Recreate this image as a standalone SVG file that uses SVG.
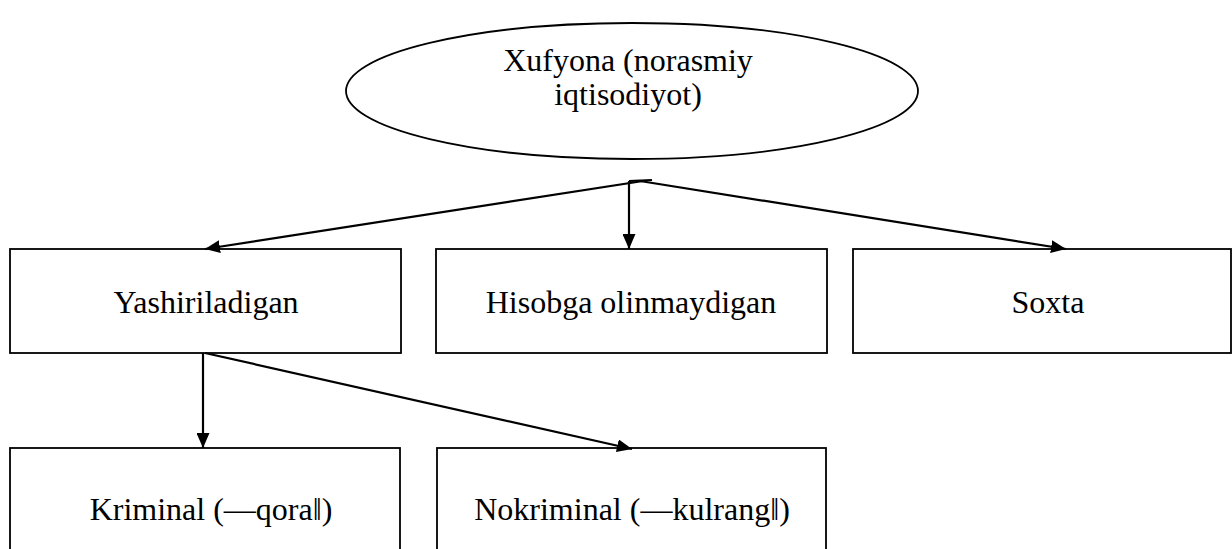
<svg xmlns="http://www.w3.org/2000/svg" width="1232" height="549" viewBox="0 0 1232 549">
<style>
.box{fill:#fff;stroke:#000;stroke-width:1.8}
.lbl{font-family:"Liberation Serif","Times New Roman",serif;font-size:32px;fill:#000;text-anchor:middle}
.con{fill:none;stroke:#000;stroke-width:2.2}
</style>
<defs>
<marker id="ah" viewBox="0 0 15 13" refX="15" refY="6.5" markerWidth="15" markerHeight="13" markerUnits="userSpaceOnUse" orient="auto">
<path d="M0,0 L15,6.5 L0,13 Z" fill="#000"/>
</marker>
</defs>
<rect width="1232" height="549" fill="#fff"/>
<g id="root">
<ellipse cx="632" cy="91" rx="286" ry="68" fill="#fff" stroke="#000" stroke-width="1.8"/>
<text class="lbl" x="628" y="71">Xufyona (norasmiy</text>
<text class="lbl" x="628" y="105">iqtisodiyot)</text>
</g>
<g id="n-yashiriladigan">
<rect class="box" x="10" y="249" width="391" height="104"/>
<text class="lbl" x="206" y="313">Yashiriladigan</text>
</g>
<g id="n-hisobga">
<rect class="box" x="436" y="249" width="391" height="104"/>
<text class="lbl" x="631" y="313">Hisobga olinmaydigan</text>
</g>
<g id="n-soxta">
<rect class="box" x="853" y="249" width="378" height="104"/>
<text class="lbl" x="1048" y="313">Soxta</text>
</g>
<g id="n-kriminal">
<rect class="box" x="10" y="448" width="390" height="120"/>
<text class="lbl" x="211" y="520">Kriminal (―qora‖)</text>
</g>
<g id="n-nokriminal">
<rect class="box" x="437" y="448" width="389" height="120"/>
<text class="lbl" x="632" y="520">Nokriminal (―kulrang‖)</text>
</g>
<g id="connectors">
<path class="con" d="M629,181 L652,180"/>
<path class="con" d="M643,181 L205,249" marker-end="url(#ah)"/>
<path class="con" d="M629,181 L629,249" marker-end="url(#ah)"/>
<path class="con" d="M640,181 L1066,249" marker-end="url(#ah)"/>
<path class="con" d="M203,353 L203,448" marker-end="url(#ah)"/>
<path class="con" d="M205,353 L632,449" marker-end="url(#ah)"/>
</g>
</svg>
